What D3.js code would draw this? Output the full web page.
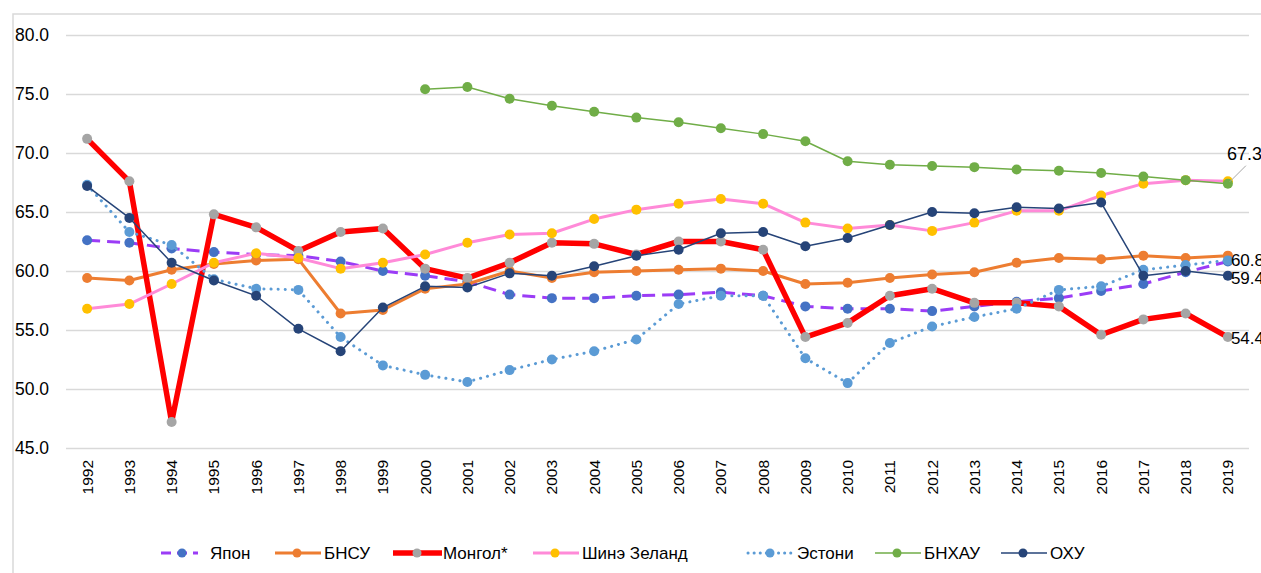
<html>
<head>
<meta charset="utf-8">
<script src="https://d3js.org/d3.v7.min.js"></script>
<style>
  body { margin:0; background:#fff; }
  text { font-family:"Liberation Sans", Arial, sans-serif; fill:#000; }
</style>
</head>
<body>
<svg id="chart"></svg>
<script>

// years on the x axis
var years = [1992,1993,1994,1995,1996,1997,1998,1999,2000,2001,2002,2003,2004,2005,
             2006,2007,2008,2009,2010,2011,2012,2013,2014,2015,2016,2017,2018,2019];

// series values
var japan   = [62.6,62.4,61.9,61.6,61.4,61.3,60.8,60.0,59.6,59.1,58.0,57.7,57.7,57.9,
               58.0,58.2,57.9,57.0,56.8,56.8,56.6,57.0,57.4,57.7,58.3,58.9,59.9,60.8];
var korea   = [59.4,59.2,60.1,60.6,60.9,61.0,56.4,56.7,58.5,58.9,60.0,59.4,59.9,60.0,
               60.1,60.2,60.0,58.9,59.0,59.4,59.7,59.9,60.7,61.1,61.0,61.3,61.1,61.3];
var mongol  = [71.2,67.6,47.2,64.8,63.7,61.7,63.3,63.6,60.2,59.4,60.7,62.4,62.3,61.4,
               62.5,62.5,61.8,54.4,55.6,57.9,58.5,57.3,57.3,57.0,54.6,55.9,56.4,54.4];
var newZeal = [56.8,57.2,58.9,60.7,61.5,61.1,60.2,60.7,61.4,62.4,63.1,63.2,64.4,65.2,
               65.7,66.1,65.7,64.1,63.6,63.9,63.4,64.1,65.1,65.1,66.4,67.4,67.7,67.6];
var estonia = [67.3,63.3,62.2,59.3,58.5,58.4,54.4,52.0,51.2,50.6,51.6,52.5,53.2,54.2,
               57.2,57.9,57.9,52.6,50.5,53.9,55.3,56.1,56.8,58.4,58.7,60.1,60.5,60.9];
var china   = [null,null,null,null,null,null,null,null,75.4,75.6,74.6,74.0,73.5,73.0,
               72.6,72.1,71.6,71.0,69.3,69.0,68.9,68.8,68.6,68.5,68.3,68.0,67.7,67.4];
var russia  = [67.2,64.5,60.7,59.2,57.9,55.1,53.2,56.9,58.7,58.6,59.8,59.6,60.4,61.3,
               61.8,63.2,63.3,62.1,62.8,63.9,65.0,64.9,65.4,65.3,65.8,59.6,60.0,59.6];

var seriesNames = ["Япон","БНСУ","Монгол*","Шинэ Зеланд","Эстони","БНХАУ","ОХУ"];
var seriesData  = [japan, korea, mongol, newZeal, estonia, china, russia];

// y ticks
var yTicks = [45,50,55,60,65,70,75,80];

// data labels at the last year: series index and shown text
var endLabelSeries = [5, 4, 6, 2];
var endLabelText   = ["67.3","60.8","59.4","54.4"];

// styles per series
var styles = [
  {line:"#9b3cf6", marker:"#4472c4", width:3,   dash:"13,7",  cap:"butt"},
  {line:"#ed7d31", marker:"#ed7d31", width:3,   dash:null,    cap:"butt"},
  {line:"#ff0000", marker:"#a5a5a5", width:5.5, dash:null,    cap:"butt"},
  {line:"#ff8ad8", marker:"#ffc000", width:3,   dash:null,    cap:"butt"},
  {line:"#5b9bd5", marker:"#5b9bd5", width:3,   dash:"0.1,7", cap:"round"},
  {line:"#70ad47", marker:"#70ad47", width:1.5, dash:null,    cap:"butt"},
  {line:"#264478", marker:"#264478", width:1.5, dash:null,    cap:"butt"}
];

var screen = {width:1261, height:573};
var plot = {left:66, right:1249, top:35, bottom:448};

var svg = d3.select("#chart")
    .attr("width",screen.width)
    .attr("height",screen.height);

// frame
svg.append("path")
    .attr("d","M13,573 V14 H1261")
    .attr("fill","none")
    .attr("stroke","#d9d9d9")
    .attr("stroke-width",1.5);

var xScale = d3.scaleBand()
    .domain(years)
    .range([plot.left,plot.right]);

var yScale = d3.scaleLinear()
    .domain([45,80])
    .range([plot.bottom,plot.top]);

var cx = function(i) { return xScale(years[i]) + xScale.bandwidth()/2; };

// gridlines + y labels
var yAxis = d3.axisLeft(yScale)
    .tickValues(yTicks)
    .tickSize(-(plot.right-plot.left))
    .tickFormat(d3.format(".1f"));

var ya = svg.append("g")
    .attr("transform","translate("+plot.left+",0)")
    .call(yAxis);
ya.select(".domain").remove();
ya.selectAll(".tick line").attr("stroke","#d9d9d9").attr("stroke-width",1.5);
ya.selectAll(".tick text")
    .attr("x",-51)
    .attr("text-anchor","start")
    .style("font-size","17.5px")
    .style("font-family","'Liberation Sans', Arial, sans-serif");

// x labels
var xAxis = d3.axisBottom(xScale).tickSize(0);
var xa = svg.append("g")
    .attr("transform","translate(0,"+plot.bottom+")")
    .call(xAxis);
xa.select(".domain").remove();
xa.selectAll(".tick text")
    .attr("transform","rotate(-90)")
    .attr("x",-12)
    .attr("y",0)
    .attr("dy","0.35em")
    .attr("text-anchor","end")
    .style("font-size","15.5px")
    .style("font-family","'Liberation Sans', Arial, sans-serif");

// lines
var lineGen = d3.line()
    .defined(function(d) { return d != null; })
    .x(function(d,i) { return cx(i); })
    .y(function(d) { return yScale(d); });

seriesData.forEach(function(values,s) {
    var st = styles[s];
    var g = svg.append("g").classed("series",true);
    g.append("path")
        .datum(values)
        .attr("d",lineGen)
        .attr("fill","none")
        .attr("stroke",st.line)
        .attr("stroke-width",st.width)
        .attr("stroke-linecap",st.cap)
        .attr("stroke-linejoin","round")
        .attr("stroke-dasharray",st.dash);
    g.selectAll("circle")
        .data(values.map(function(v,i){ return {v:v,i:i}; })
                    .filter(function(d){ return d.v != null; }))
        .enter()
        .append("circle")
        .attr("cx",function(d){ return cx(d.i); })
        .attr("cy",function(d){ return yScale(d.v); })
        .attr("r",5)
        .attr("fill",st.marker);
});

// end labels
var last = years.length-1;
var labels = svg.append("g");
endLabelSeries.forEach(function(s,k) {
    var v = seriesData[s][last];
    var x = cx(last), y = yScale(v);
    if (k == 0) {
        labels.append("line")
            .attr("x1",x+2).attr("y1",y-2)
            .attr("x2",x+18).attr("y2",y-18)
            .attr("stroke","#a6a6a6").attr("stroke-width",1);
        labels.append("text")
            .attr("x",x-1).attr("y",y-24)
            .style("font-size","18px")
            .text(endLabelText[k]);
    } else {
        var off = {1:6, 2:8, 3:7}[k];
        labels.append("text")
            .attr("x",x+3).attr("y",y+off)
            .style("font-size","17px")
            .text(endLabelText[k]);
    }
});

// legend
var legendX = [161, 275, 393, 533, 748, 875, 1001];
var legendY = 553;
var legend = svg.append("g");
seriesNames.forEach(function(name,s) {
    var st = styles[s];
    var x0 = legendX[s];
    var g = legend.append("g").attr("transform","translate("+x0+","+legendY+")");
    g.append("line")
        .attr("x1",0).attr("x2",s==2 ? 49 : (s==0 ? 37 : 46))
        .attr("y1",0).attr("y2",0)
        .attr("stroke",st.line)
        .attr("stroke-width",st.width)
        .attr("stroke-linecap",st.cap)
        .attr("stroke-dasharray",s==0 ? "10,6" : (s==4 ? "0.1,6" : null));
    g.append("circle")
        .attr("cx",s==0 ? 21 : (s==2 ? 24 : 22)).attr("cy",0)
        .attr("r",4.5)
        .attr("fill",st.marker);
    g.append("text")
        .attr("x",s==0 ? 49 : (s==2 ? 50 : 49))
        .attr("y",0)
        .attr("dy","0.36em")
        .style("font-size","17px")
        .text(name);
});

</script>
</body>
</html>
